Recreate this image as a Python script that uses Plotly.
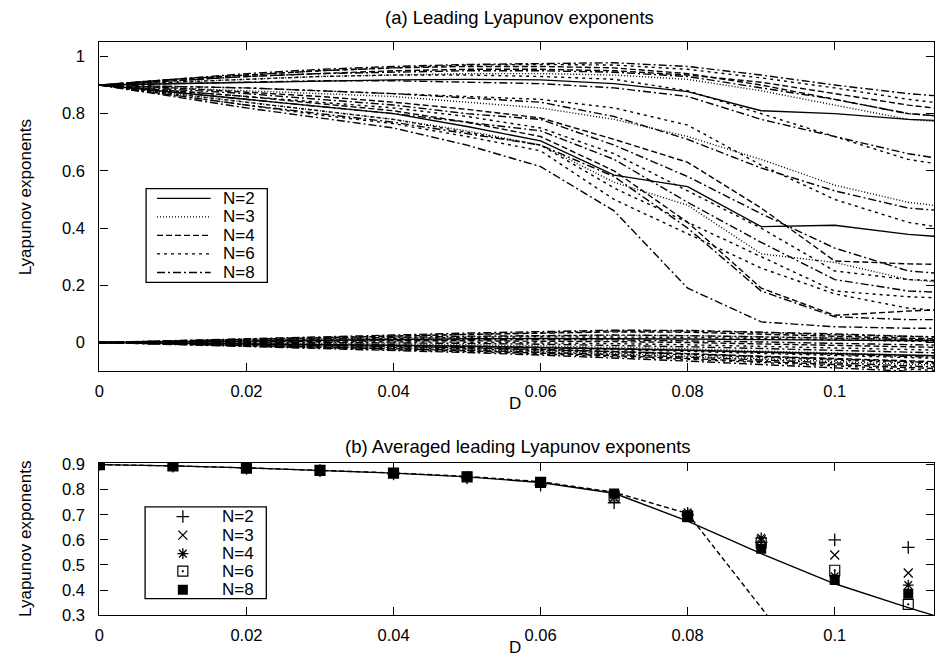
import plotly.graph_objects as go

W, H = 935, 671

# ---------------- data: panel (a) ----------------
D = [0.00, 0.01, 0.02, 0.03, 0.04, 0.05, 0.06, 0.07, 0.08, 0.09, 0.10, 0.11, 0.12]

# leading (positive) exponents, one row per unit
lead_n2 = [
    [0.90, 0.905, 0.91, 0.915, 0.918, 0.92, 0.918, 0.905, 0.877, 0.81, 0.80, 0.78, 0.77],
    [0.90, 0.875, 0.85, 0.826, 0.80, 0.755, 0.705, 0.585, 0.545, 0.405, 0.41, 0.378, 0.36],
]
lead_n3 = [
    [0.90, 0.91, 0.92, 0.93, 0.935, 0.94, 0.94, 0.935, 0.92, 0.88, 0.83, 0.78, 0.76],
    [0.90, 0.89, 0.88, 0.87, 0.86, 0.84, 0.82, 0.78, 0.72, 0.64, 0.55, 0.49, 0.46],
    [0.90, 0.87, 0.84, 0.81, 0.78, 0.74, 0.69, 0.56, 0.48, 0.31, 0.28, 0.22, 0.20],
]
lead_n4 = [
    [0.90, 0.92, 0.935, 0.95, 0.96, 0.965, 0.965, 0.96, 0.94, 0.90, 0.85, 0.80, 0.78],
    [0.90, 0.915, 0.93, 0.94, 0.95, 0.955, 0.955, 0.95, 0.935, 0.91, 0.87, 0.83, 0.80],
    [0.90, 0.89, 0.875, 0.86, 0.84, 0.815, 0.785, 0.71, 0.63, 0.47, 0.285, 0.275, 0.27],
    [0.90, 0.88, 0.86, 0.835, 0.81, 0.77, 0.72, 0.60, 0.42, 0.19, 0.095, 0.11, 0.12],
]
lead_n6 = [
    [0.90, 0.92, 0.935, 0.95, 0.96, 0.97, 0.972, 0.97, 0.955, 0.925, 0.89, 0.85, 0.82],
    [0.90, 0.91, 0.92, 0.93, 0.935, 0.935, 0.93, 0.92, 0.88, 0.80, 0.72, 0.64, 0.60],
    [0.90, 0.895, 0.89, 0.88, 0.87, 0.86, 0.85, 0.82, 0.76, 0.62, 0.50, 0.42, 0.38],
    [0.90, 0.88, 0.86, 0.84, 0.82, 0.79, 0.75, 0.66, 0.53, 0.40, 0.25, 0.22, 0.21],
    [0.90, 0.87, 0.84, 0.81, 0.78, 0.735, 0.69, 0.54, 0.42, 0.30, 0.18, 0.16, 0.15],
    [0.90, 0.865, 0.83, 0.795, 0.765, 0.72, 0.67, 0.50, 0.38, 0.26, 0.17, 0.12, 0.10],
]
lead_n8 = [
    [0.90, 0.92, 0.94, 0.955, 0.965, 0.972, 0.976, 0.978, 0.965, 0.935, 0.90, 0.87, 0.85],
    [0.90, 0.915, 0.93, 0.94, 0.945, 0.95, 0.95, 0.945, 0.93, 0.89, 0.85, 0.80, 0.78],
    [0.90, 0.905, 0.91, 0.915, 0.915, 0.91, 0.905, 0.89, 0.86, 0.78, 0.72, 0.66, 0.62],
    [0.90, 0.895, 0.89, 0.88, 0.87, 0.855, 0.84, 0.79, 0.71, 0.61, 0.53, 0.47, 0.45],
    [0.90, 0.885, 0.87, 0.85, 0.83, 0.80, 0.78, 0.69, 0.58, 0.45, 0.33, 0.25, 0.23],
    [0.90, 0.875, 0.85, 0.825, 0.80, 0.77, 0.74, 0.64, 0.49, 0.35, 0.22, 0.18, 0.17],
    [0.90, 0.865, 0.83, 0.80, 0.77, 0.73, 0.69, 0.58, 0.40, 0.18, 0.09, 0.08, 0.08],
    [0.90, 0.86, 0.82, 0.785, 0.75, 0.69, 0.615, 0.46, 0.19, 0.072, 0.055, 0.05, 0.05],
]

# exponents starting at zero
zero_n2 = [
    [0, 0.003, 0.006, 0.009, 0.011, 0.013, 0.014, 0.014, 0.012, 0.010, 0.008, 0.006, 0.005],
    [0, -0.002, -0.004, -0.007, -0.010, -0.013, -0.017, -0.022, -0.027, -0.033, -0.040, -0.046, -0.050],
]
zero_n3 = [
    [0, 0.004, 0.008, 0.012, 0.016, 0.020, 0.023, 0.025, 0.024, 0.020, 0.015, 0.010, 0.007],
    [0, 0.000, -0.001, -0.003, -0.005, -0.008, -0.012, -0.017, -0.022, -0.030, -0.038, -0.045, -0.050],
    [0, -0.004, -0.008, -0.013, -0.018, -0.024, -0.031, -0.039, -0.048, -0.058, -0.068, -0.078, -0.085],
]
zero_n4 = [
    [0, 0.005, 0.010, 0.016, 0.022, 0.028, 0.033, 0.037, 0.036, 0.030, 0.022, 0.015, 0.010],
    [0, 0.002, 0.004, 0.005, 0.006, 0.006, 0.005, 0.003, 0.000, -0.005, -0.010, -0.016, -0.020],
    [0, -0.002, -0.005, -0.009, -0.013, -0.018, -0.024, -0.031, -0.039, -0.048, -0.057, -0.066, -0.072],
    [0, -0.005, -0.010, -0.016, -0.022, -0.029, -0.037, -0.046, -0.056, -0.067, -0.079, -0.090, -0.098],
]
zero_n6 = [
    [0, 0.006, 0.012, 0.018, 0.024, 0.030, 0.036, 0.040, 0.040, 0.035, 0.027, 0.020, 0.015],
    [0, 0.004, 0.008, 0.012, 0.015, 0.018, 0.020, 0.020, 0.018, 0.014, 0.009, 0.004, 0.000],
    [0, 0.001, 0.002, 0.002, 0.002, 0.001, -0.001, -0.004, -0.008, -0.013, -0.019, -0.025, -0.030],
    [0, -0.002, -0.004, -0.007, -0.010, -0.014, -0.019, -0.025, -0.031, -0.038, -0.046, -0.054, -0.060],
    [0, -0.004, -0.008, -0.012, -0.017, -0.022, -0.028, -0.035, -0.043, -0.052, -0.062, -0.072, -0.080],
    [0, -0.006, -0.012, -0.018, -0.025, -0.032, -0.040, -0.049, -0.059, -0.070, -0.082, -0.094, -0.105],
]
zero_n8 = [
    [0, 0.006, 0.012, 0.019, 0.026, 0.033, 0.039, 0.043, 0.042, 0.037, 0.030, 0.022, 0.017],
    [0, 0.005, 0.010, 0.014, 0.018, 0.022, 0.025, 0.026, 0.024, 0.020, 0.015, 0.010, 0.006],
    [0, 0.003, 0.005, 0.007, 0.009, 0.010, 0.010, 0.009, 0.006, 0.002, -0.003, -0.008, -0.012],
    [0, 0.001, 0.001, 0.000, -0.001, -0.003, -0.006, -0.010, -0.015, -0.021, -0.028, -0.035, -0.040],
    [0, -0.001, -0.003, -0.005, -0.008, -0.012, -0.016, -0.021, -0.027, -0.034, -0.042, -0.050, -0.056],
    [0, -0.003, -0.006, -0.010, -0.014, -0.019, -0.025, -0.032, -0.040, -0.049, -0.059, -0.069, -0.076],
    [0, -0.005, -0.010, -0.015, -0.021, -0.027, -0.034, -0.042, -0.051, -0.061, -0.072, -0.083, -0.092],
    [0, -0.007, -0.013, -0.020, -0.027, -0.035, -0.044, -0.054, -0.065, -0.077, -0.090, -0.103, -0.112],
]

# ---------------- data: panel (b) ----------------
D_avg = [0.00, 0.01, 0.02, 0.03, 0.04, 0.05, 0.06, 0.07, 0.08, 0.09, 0.10, 0.11]
avg_n2 = [0.900, 0.894, 0.885, 0.876, 0.863, 0.847, 0.818, 0.748, 0.700, 0.590, 0.600, 0.570]
avg_n3 = [0.900, 0.895, 0.886, 0.877, 0.866, 0.850, 0.826, 0.770, 0.700, 0.600, 0.540, 0.468]
avg_n4 = [0.900, 0.895, 0.887, 0.877, 0.867, 0.851, 0.828, 0.780, 0.710, 0.608, 0.455, 0.420]
avg_n6 = [0.900, 0.895, 0.886, 0.877, 0.866, 0.851, 0.829, 0.775, 0.695, 0.588, 0.479, 0.343]
avg_n8 = [0.900, 0.895, 0.887, 0.877, 0.867, 0.852, 0.830, 0.785, 0.690, 0.565, 0.440, 0.385]

D_curve = [0.00, 0.01, 0.02, 0.03, 0.04, 0.05, 0.06, 0.07, 0.08, 0.09, 0.10, 0.11, 0.12]
curve_solid = [0.900, 0.895, 0.887, 0.877, 0.866, 0.851, 0.829, 0.786, 0.675, 0.545, 0.425, 0.330, 0.240]
curve_dashed = [0.900, 0.895, 0.887, 0.877, 0.867, 0.853, 0.832, 0.790, 0.705, 0.330, -0.050]

labels = ["N=2", "N=3", "N=4", "N=6", "N=8"]

# ---------------- styles ----------------
FONT = "Liberation Sans, Arial, Helvetica, sans-serif"
BLACK = "black"
dashes = ["solid", "1px,2px", "6px,3px", "3px,4px", "8px,3px,2px,3px"]
markers = [
    dict(symbol="cross-thin", size=9, color=BLACK, line=dict(color=BLACK, width=1.3)),
    dict(symbol="x-thin", size=9, color=BLACK, line=dict(color=BLACK, width=1.3)),
    dict(symbol="asterisk", size=9, color=BLACK, line=dict(color=BLACK, width=1.3)),
    dict(symbol="square-open-dot", size=10, color=BLACK, line=dict(color=BLACK, width=1.2)),
    dict(symbol="square", size=10, color=BLACK, line=dict(color=BLACK, width=0)),
]

fig = go.Figure()

lead_sets = [lead_n2, lead_n3, lead_n4, lead_n6, lead_n8]
zero_sets = [zero_n2, zero_n3, zero_n4, zero_n6, zero_n8]
for k, lab in enumerate(labels):
    for row in lead_sets[k] + zero_sets[k]:
        fig.add_trace(go.Scatter(
            x=D[:len(row)], y=row, mode="lines", name=lab, showlegend=False,
            line=dict(color=BLACK, width=1.4, dash=dashes[k]),
            xaxis="x", yaxis="y",
        ))

# averaged exponents: two reference curves and the measured points
fig.add_trace(go.Scatter(x=D_curve, y=curve_solid, mode="lines", showlegend=False,
                         line=dict(color=BLACK, width=1.4), xaxis="x2", yaxis="y2"))
fig.add_trace(go.Scatter(x=D_curve[:len(curve_dashed)], y=curve_dashed, mode="lines",
                         showlegend=False,
                         line=dict(color=BLACK, width=1.4, dash="5px,3px"),
                         xaxis="x2", yaxis="y2"))
for k, (lab, vals) in enumerate(zip(labels, [avg_n2, avg_n3, avg_n4, avg_n6, avg_n8])):
    fig.add_trace(go.Scatter(x=D_avg, y=vals, mode="markers", name=lab, showlegend=False,
                             marker=markers[k], xaxis="x2", yaxis="y2"))


def px_x(p):
    return p / W


def px_y(p):
    return 1 - p / H


axis_common = dict(
    showline=True, linecolor=BLACK, linewidth=1.3, mirror="ticks",
    ticks="inside", ticklen=8, tickwidth=1.2, tickcolor=BLACK,
    showgrid=False, zeroline=False,
    tickfont=dict(family=FONT, size=16.5, color=BLACK),
)

x_left, x_right = 95, 935
fig.update_layout(
    width=W, height=H,
    margin=dict(l=0, r=0, t=0, b=0),
    paper_bgcolor="white", plot_bgcolor="rgba(0,0,0,0)",
    font=dict(family=FONT, size=16, color=BLACK),
    showlegend=False,
    xaxis=dict(domain=[px_x(x_left), px_x(x_right)], range=[0, 0.1135],
               tickvals=[0, 0.02, 0.04, 0.06, 0.08, 0.1], ticklabelstandoff=5,
               anchor="y", **axis_common),
    yaxis=dict(domain=[px_y(373), px_y(36)], range=[-0.1, 1.05],
               tickvals=[0, 0.2, 0.4, 0.6, 0.8, 1.0], ticklabelstandoff=10,
               anchor="x", **axis_common),
    xaxis2=dict(domain=[px_x(x_left), px_x(x_right)], range=[0, 0.1135],
                tickvals=[0, 0.02, 0.04, 0.06, 0.08, 0.1], ticklabelstandoff=5,
                anchor="y2", **axis_common),
    yaxis2=dict(domain=[px_y(623), px_y(467)], range=[0.3, 0.907],
                tickvals=[0.3, 0.4, 0.5, 0.6, 0.7, 0.8, 0.9], ticklabelstandoff=10,
                anchor="x2", **axis_common),
    # pixel-unit overlay used only for the legend keys
    xaxis3=dict(domain=[0, 1], range=[0, W], visible=False, fixedrange=True, anchor="y3"),
    yaxis3=dict(domain=[0, 1], range=[H, 0], visible=False, fixedrange=True, anchor="x3"),
)

# ---------------- legends ----------------
leg_font = dict(family=FONT, size=17, color=BLACK)
leg_a_rows = [196, 215, 234, 253, 272]
leg_b_rows = [522, 541, 560, 578, 597]

fig.add_shape(type="rect", xref="paper", yref="paper",
              x0=px_x(142), x1=px_x(264), y0=px_y(282), y1=px_y(186),
              line=dict(color=BLACK, width=1.3), fillcolor="rgba(0,0,0,0)", layer="above")
fig.add_shape(type="rect", xref="paper", yref="paper",
              x0=px_x(141), x1=px_x(263), y0=px_y(606), y1=px_y(512),
              line=dict(color=BLACK, width=1.3), fillcolor="rgba(0,0,0,0)", layer="above")

for k, lab in enumerate(labels):
    fig.add_shape(type="line", xref="paper", yref="paper",
                  x0=px_x(153), x1=px_x(207), y0=px_y(leg_a_rows[k]), y1=px_y(leg_a_rows[k]),
                  line=dict(color=BLACK, width=1.3, dash=dashes[k]), layer="above")
    fig.add_annotation(text=lab, xref="paper", yref="paper", x=px_x(217), y=px_y(leg_a_rows[k]),
                       xanchor="left", yanchor="middle", showarrow=False, font=leg_font)
    fig.add_annotation(text=lab, xref="paper", yref="paper", x=px_x(216), y=px_y(leg_b_rows[k]),
                       xanchor="left", yanchor="middle", showarrow=False, font=leg_font)
    fig.add_trace(go.Scatter(x=[179], y=[leg_b_rows[k]], mode="markers", showlegend=False,
                             marker=markers[k], xaxis="x3", yaxis="y3", hoverinfo="skip"))

# ---------------- titles ----------------
ann_font = dict(family=FONT, size=18.5, color=BLACK)
ax_font = dict(family=FONT, size=17, color=BLACK)
annotations = [
    dict(text="(a) Leading Lyapunov exponents", x=px_x(518), y=px_y(11), font=ann_font),
    dict(text="(b) Averaged leading Lyapunov exponents", x=px_x(516), y=px_y(450), font=ann_font),
    dict(text="D", x=px_x(513), y=px_y(406), font=ax_font),
    dict(text="D", x=px_x(513), y=px_y(656), font=ax_font),
    dict(text="Lyapunov exponents", x=px_x(20), y=px_y(195), textangle=-90, font=ax_font),
    dict(text="Lyapunov exponents", x=px_x(20), y=px_y(545), textangle=-90, font=ax_font),
]
for a in annotations:
    fig.add_annotation(xref="paper", yref="paper", showarrow=False,
                       xanchor="center", yanchor="middle", **a)

fig.write_html("out.html")
